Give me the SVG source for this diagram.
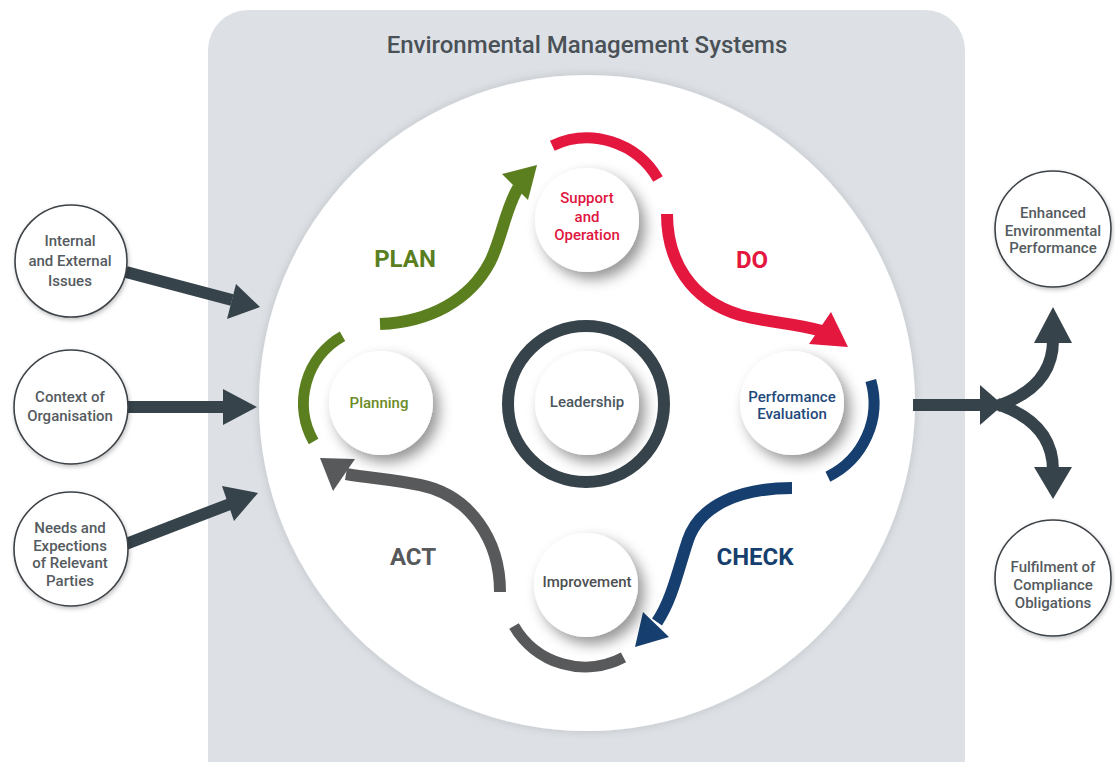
<svg xmlns="http://www.w3.org/2000/svg" width="1115" height="762" viewBox="0 0 1115 762">
<defs>
<style>
text{font-family:Roboto,"Liberation Sans",sans-serif;text-anchor:middle}
.t{font-size:24px;font-weight:500;fill:#4a5157}
.ol{font-size:15px;font-weight:500;fill:#555b60}
.il{font-size:15px;font-weight:500}
.big{font-size:24px;font-weight:700}
.oc{fill:#fff;stroke:#3d4247;stroke-width:1.6}
.ic{fill:#fff}
.side{fill:none;stroke:#36434a;stroke-width:12}
.head{fill:#36434a}
</style>
<filter id="sh" x="-40%" y="-40%" width="190%" height="190%">
<feDropShadow dx="6" dy="7" stdDeviation="7" flood-color="#000" flood-opacity="0.42"/>
</filter>
<filter id="sh2" x="-20%" y="-20%" width="140%" height="140%">
<feDropShadow dx="1" dy="2" stdDeviation="2" flood-color="#000" flood-opacity="0.25"/>
</filter>
<filter id="sh3" x="-10%" y="-10%" width="120%" height="120%">
<feDropShadow dx="0" dy="0" stdDeviation="5" flood-color="#000" flood-opacity="0.15"/>
</filter>
</defs>
<rect width="1115" height="762" fill="#fff"/>
<g id="frame">
<rect x="208" y="10" width="757" height="800" rx="40" fill="#dde1e6"/>
<text class="t" x="587" y="53">Environmental Management Systems</text>
<circle cx="587" cy="403" r="328" fill="#fff" filter="url(#sh3)"/>
</g>

<g id="connectors">
<path class="side" d="M126 272 L232 300"/>
<polygon class="head" points="260,307 227,319 236,284"/>
<path class="side" d="M128 407 L226 407"/>
<polygon class="head" points="257,407 223,389 223,425"/>
<path class="side" d="M126 544 L230 504"/>
<polygon class="head" points="258,493 234,521 222,486"/>
<path class="side" d="M913 405 L985 405"/>
<polygon class="head" points="1003,405 980,385 980,425"/>
<path class="side" d="M997 406 C1030 395 1053 375 1053 340"/>
<polygon class="head" points="1053,307 1034,343 1072,343"/>
<path class="side" d="M997 404 C1030 415 1053 435 1053 470"/>
<polygon class="head" points="1053,499 1034,467 1072,467"/>

<path d="M313.6 441.5 A77 77 0 0 1 342.5 336.3" fill="none" stroke="#5b7f1f" stroke-width="11"/>
<path d="M380 324 C430 322 470 300 490 262 C502 238 505 210 518 188" fill="none" stroke="#5b7f1f" stroke-width="12"/>
<polygon points="537,165 502,174 528,200" fill="#5b7f1f"/>
<path d="M552.3 145.7 A82 82 0 0 1 658 179" fill="none" stroke="#e4173f" stroke-width="11"/>
<path d="M667 214 C667 260 690 300 740 315 C770 323 795 323 822 331" fill="none" stroke="#e4173f" stroke-width="12"/>
<polygon points="848,347 831,312 809,344" fill="#e4173f"/>
<path d="M870.8 380.4 A82 82 0 0 1 827.9 476.7" fill="none" stroke="#163f6f" stroke-width="11"/>
<path d="M792 488 C740 488 700 505 688 540 C678 570 672 600 657 622" fill="none" stroke="#163f6f" stroke-width="12"/>
<polygon points="635,647 643,612 669,637" fill="#163f6f"/>
<path d="M623.5 657.4 A82 82 0 0 1 514 626" fill="none" stroke="#58595b" stroke-width="11"/>
<path d="M500 592 C500 540 470 495 420 485 C395 480 370 478 346 474" fill="none" stroke="#58595b" stroke-width="12"/>
<polygon points="320,458 355,459 333,491" fill="#58595b"/>
<circle cx="586" cy="404" r="78" fill="none" stroke="#37434b" stroke-width="12"/>
</g>

<text class="big" x="405" y="267" fill="#5b7f1f">PLAN</text>
<text class="big" x="752" y="268" fill="#e4173f">DO</text>
<text class="big" x="755" y="565" fill="#163f6f">CHECK</text>
<text class="big" x="413" y="565" fill="#58595b">ACT</text>

<g id="n-support"><circle class="ic" cx="587" cy="220" r="52" filter="url(#sh)"/>
<text class="il" fill="#e0173f"><tspan x="587" y="203">Support</tspan><tspan x="587" y="222">and</tspan><tspan x="587" y="240">Operation</tspan></text></g>
<g id="n-planning"><circle class="ic" cx="381" cy="403" r="52" filter="url(#sh)"/>
<text class="il" x="379" y="408" fill="#6a8b26">Planning</text></g>
<g id="n-leadership"><circle class="ic" cx="587" cy="403" r="52" filter="url(#sh)"/>
<text class="il" x="587" y="407" fill="#4b5660">Leadership</text></g>
<g id="n-perf"><circle class="ic" cx="792" cy="403" r="52" filter="url(#sh)"/>
<text class="il" fill="#1f4a7c"><tspan x="792" y="402">Performance</tspan><tspan x="792" y="419">Evaluation</tspan></text></g>
<g id="n-improvement"><circle class="ic" cx="586" cy="585" r="52" filter="url(#sh)"/>
<text class="il" x="587" y="587" fill="#4d4f52">Improvement</text></g>

<g id="n-internal"><circle class="oc" cx="71" cy="261" r="56" filter="url(#sh2)"/>
<text class="ol"><tspan x="70" y="246">Internal</tspan><tspan x="70" y="266">and External</tspan><tspan x="70" y="286">Issues</tspan></text></g>
<g id="n-context"><circle class="oc" cx="71" cy="407" r="57" filter="url(#sh2)"/>
<text class="ol"><tspan x="70" y="402">Context of</tspan><tspan x="70" y="421">Organisation</tspan></text></g>
<g id="n-needs"><circle class="oc" cx="71" cy="549" r="57" filter="url(#sh2)"/>
<text class="ol"><tspan x="70" y="533">Needs and</tspan><tspan x="70" y="551">Expections</tspan><tspan x="70" y="568">of Relevant</tspan><tspan x="70" y="586">Parties</tspan></text></g>
<g id="n-enhanced"><circle class="oc" cx="1053" cy="229" r="58" filter="url(#sh2)"/>
<text class="ol"><tspan x="1053" y="218">Enhanced</tspan><tspan x="1053" y="236">Environmental</tspan><tspan x="1053" y="253">Performance</tspan></text></g>
<g id="n-fulfilment"><circle class="oc" cx="1053" cy="578" r="58" filter="url(#sh2)"/>
<text class="ol"><tspan x="1053" y="572">Fulfilment of</tspan><tspan x="1053" y="590">Compliance</tspan><tspan x="1053" y="608">Obligations</tspan></text></g>
</svg>
